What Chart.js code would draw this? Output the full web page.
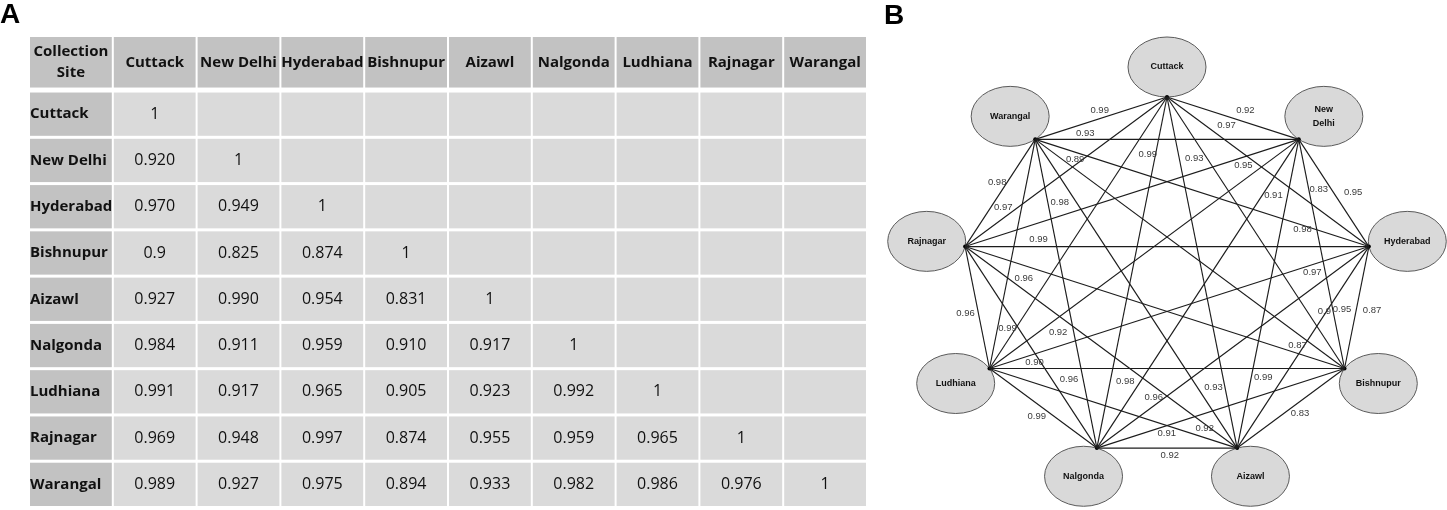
<!DOCTYPE html>
<html>
<head>
<meta charset="utf-8">
<script src="https://cdn.jsdelivr.net/npm/chart.js@4.4.0/dist/chart.umd.min.js"></script>
<style>
    html, body { margin: 0; padding: 0; background: #fff; }
    #wrap { position: relative; width: 1447px; height: 510px; overflow: hidden; }
    #tableCanvas { position: absolute; left: 0; top: 0; }
    #netCanvas { position: absolute; left: 880px; top: 0; }
    .panel-tag {
        position: absolute;
        font: bold 28px "Liberation Sans", Arial, sans-serif;
        line-height: 28px;
        color: #000;
    }
</style>
</head>
<body>
<div id="wrap">
    <canvas id="tableCanvas"></canvas>
    <canvas id="netCanvas"></canvas>
    <div class="panel-tag" style="left:0px; top:0px;">A</div>
    <div class="panel-tag" style="left:884px; top:1px;">B</div>
</div>

<script>
// collection sites, same order in the table and around the network
const sites = ['Cuttack', 'New Delhi', 'Hyderabad', 'Bishnupur', 'Aizawl', 'Nalgonda', 'Ludhiana', 'Rajnagar', 'Warangal'];
const cornerLabel = 'Collection Site';

// lower triangle of the correlation table, written as in the figure
const corrRows = [
    ['1'],
    ['0.920', '1'],
    ['0.970', '0.949', '1'],
    ['0.9', '0.825', '0.874', '1'],
    ['0.927', '0.990', '0.954', '0.831', '1'],
    ['0.984', '0.911', '0.959', '0.910', '0.917', '1'],
    ['0.991', '0.917', '0.965', '0.905', '0.923', '0.992', '1'],
    ['0.969', '0.948', '0.997', '0.874', '0.955', '0.959', '0.965', '1'],
    ['0.989', '0.927', '0.975', '0.894', '0.933', '0.982', '0.986', '0.976', '1']
];

// network edges (site indexes) and the value printed on each edge
const edgePairs = [
    [0, 1], [0, 2], [0, 3], [0, 4], [0, 5], [0, 6], [0, 7], [0, 8],
    [1, 2], [1, 3], [1, 4], [1, 5], [1, 6], [1, 7], [1, 8],
    [2, 3], [2, 4], [2, 5], [2, 6], [2, 7], [2, 8],
    [3, 4], [3, 5], [3, 6], [3, 7], [3, 8],
    [4, 5], [4, 6], [4, 7], [4, 8],
    [5, 6], [5, 7], [5, 8],
    [6, 7], [6, 8],
    [7, 8]
];
const edgeValues = [
    '0.92', '0.97', '0.9', '0.93', '0.98', '0.99', '0.97', '0.99',
    '0.95', '0.83', '0.99', '0.91', '0.92', '0.95', '0.93',
    '0.87', '0.95', '0.96', '0.97', '0.99', '0.98',
    '0.83', '0.91', '0.90', '0.87', '0.89',
    '0.92', '0.92', '0.96', '0.93',
    '0.99', '0.96', '0.98',
    '0.96', '0.99',
    '0.98'
];

// where each edge label sits: fraction along the edge, then a small pixel nudge
const edgeLabelAt = [
    [0.595, 0, -12], [0.295, 0, -16], [0.791, 17, 0], [0.174, 15, 0], [0.809, 15, 0], [0.21, 18, 0], [0.811, 0, -11], [0.511, 0, -8],
    [0.49, 20, 0], [0.219, 10, 0], [0.771, 12, 0], [0.18, 11, 0], [0.778, 0, 15], [0.166, 0, 8], [0.81, 0, -6],
    [0.525, 16, 0], [0.31, 14, 0], [0.791, 0, -9], [0.149, 0, 8], [0.818, 0, -7], [0.199, 0, 4],
    [0.414, 0, 12], [0.718, 0, 8], [0.873, 0, -6], [0.124, 0, -8], [0.871, 0, -10],
    [0.48, 0, 7], [0.131, 0, -9], [0.784, 0, -12], [0.196, 16, 0],
    [0.56, 0, 13], [0.34, 17, 0], [0.797, 12, 0],
    [0.45, -13, 0], [0.177, 10, 0],
    [0.6, -10, 0]
];

const HEAD_ROW = 1.2;      // header row is a bit taller than the body rows
const NODE_RX = 39;
const NODE_RY = 30;
const tableFont = '"Open Sans", "Liberation Sans", sans-serif';
const netFont = '"Liberation Sans", Arial, sans-serif';

// ---------- Panel A: the table ----------
const cells = [];
cells.push({ c: 0, r: -1, text: cornerLabel, kind: 'head' });
sites.forEach((s, i) => cells.push({ c: i + 1, r: -1, text: s, kind: 'head' }));
sites.forEach((s, r) => {
    cells.push({ c: 0, r: r, text: s, kind: 'rowhead' });
    sites.forEach((_, c) => {
        cells.push({ c: c + 1, r: r, text: corrRows[r][c] || '', kind: 'body' });
    });
});

const tablePlugin = {
    id: 'corrTable',
    beforeDatasetsDraw(chart) {
        const { ctx } = chart;
        const xs = chart.scales.x;
        const ys = chart.scales.y;
        ctx.save();
        chart.data.datasets[0].data.forEach(pt => {
            const cell = pt.cell;
            const x0 = xs.getPixelForValue(cell.c);
            const x1 = xs.getPixelForValue(cell.c + 1);
            const y0 = ys.getPixelForValue(cell.r < 0 ? -HEAD_ROW : cell.r);
            const y1 = ys.getPixelForValue(cell.r < 0 ? 0 : cell.r + 1);
            const w = x1 - x0 - 2;
            const h = y1 - y0 - (cell.r < 0 ? 5 : 3);

            ctx.fillStyle = cell.kind === 'body' ? '#dadada' : '#c2c2c2';
            ctx.fillRect(x0, y0, w, h);

            if (!cell.text) return;
            ctx.fillStyle = '#111';
            ctx.textBaseline = 'middle';
            ctx.font = cell.kind === 'body' ? '16px ' + tableFont : 'bold 15px ' + tableFont;
            const cy = y0 + h / 2;
            if (cell.kind === 'rowhead') {
                ctx.textAlign = 'left';
                ctx.fillText(cell.text, x0, cy);
                return;
            }
            ctx.textAlign = 'center';
            // wrap header text onto two lines when it does not fit
            let lines = [cell.text];
            if (ctx.measureText(cell.text).width > w - 4) lines = cell.text.split(' ');
            lines.forEach((ln, k) => {
                ctx.fillText(ln, x0 + w / 2, cy + (k - (lines.length - 1) / 2) * 21);
            });
        });
        ctx.restore();
    }
};

const tableCanvas = document.getElementById('tableCanvas');
tableCanvas.width = 880;
tableCanvas.height = 510;
tableCanvas.style.width = '880px';
tableCanvas.style.height = '510px';

new Chart(tableCanvas, {
    type: 'scatter',
    data: {
        datasets: [{
            data: cells.map(cell => ({ x: cell.c + 0.5, y: cell.r + 0.5, cell: cell })),
            pointRadius: 0
        }]
    },
    options: {
        responsive: false,
        animation: false,
        events: [],
        layout: { autoPadding: false, padding: { left: 30, right: 12, top: 37, bottom: 1 } },
        plugins: { legend: { display: false }, tooltip: { enabled: false } },
        scales: {
            x: { type: 'linear', display: false, min: 0, max: sites.length + 1 },
            y: { type: 'linear', display: false, reverse: true, min: -HEAD_ROW, max: sites.length }
        }
    },
    plugins: [tablePlugin]
});

// ---------- Panel B: the network ----------
const angleOf = i => i * 2 * Math.PI / sites.length;
const nodePts = sites.map((s, i) => ({ x: Math.sin(angleOf(i)), y: Math.cos(angleOf(i)) }));

const edgeSets = edgePairs.map(([a, b]) => ({
    data: [nodePts[a], nodePts[b]],
    showLine: true,
    borderColor: '#1c1c1c',
    borderWidth: 1.15,
    pointRadius: 0,
    clip: false
}));

const netPlugin = {
    id: 'netDecor',
    beforeDatasetsDraw(chart) {
        const { ctx } = chart;
        const xs = chart.scales.x;
        const ys = chart.scales.y;
        ctx.save();
        sites.forEach((name, i) => {
            const a = angleOf(i);
            const px = xs.getPixelForValue(nodePts[i].x);
            const py = ys.getPixelForValue(nodePts[i].y);
            const cx = px + NODE_RX * Math.sin(a);
            const cy = py - NODE_RY * Math.cos(a);
            ctx.beginPath();
            ctx.ellipse(cx, cy, NODE_RX, NODE_RY, 0, 0, Math.PI * 2);
            ctx.fillStyle = '#d9d9d9';
            ctx.fill();
            ctx.lineWidth = 1;
            ctx.strokeStyle = '#5a5a5a';
            ctx.stroke();

            const lines = name.split(' ');
            ctx.fillStyle = '#111';
            ctx.font = 'bold 9px ' + netFont;
            ctx.textAlign = 'center';
            ctx.textBaseline = 'middle';
            lines.forEach((ln, k) => {
                ctx.fillText(ln, cx, cy + (k - (lines.length - 1) / 2) * 14);
            });
        });
        ctx.restore();
    },
    afterDatasetsDraw(chart) {
        const { ctx } = chart;
        const xs = chart.scales.x;
        const ys = chart.scales.y;
        ctx.save();
        ctx.fillStyle = '#3a3a3a';
        ctx.font = '9.5px ' + netFont;
        ctx.textAlign = 'center';
        ctx.textBaseline = 'middle';
        edgePairs.forEach(([a, b], k) => {
            const [t, dx, dy] = edgeLabelAt[k];
            const ax = xs.getPixelForValue(nodePts[a].x), ay = ys.getPixelForValue(nodePts[a].y);
            const bx = xs.getPixelForValue(nodePts[b].x), by = ys.getPixelForValue(nodePts[b].y);
            ctx.fillText(edgeValues[k], ax + (bx - ax) * t + dx, ay + (by - ay) * t + dy);
        });
        ctx.restore();
    }
};

const netCanvas = document.getElementById('netCanvas');
netCanvas.width = 567;
netCanvas.height = 510;
netCanvas.style.width = '567px';
netCanvas.style.height = '510px';

new Chart(netCanvas, {
    type: 'scatter',
    data: {
        datasets: [
            ...edgeSets,
            {
                // small dots where the edges meet each node
                data: nodePts,
                pointRadius: 2,
                pointBackgroundColor: '#000',
                pointBorderWidth: 0,
                clip: false
            }
        ]
    },
    options: {
        responsive: false,
        animation: false,
        events: [],
        layout: { autoPadding: false, padding: { left: 82, right: 75, top: 97, bottom: 51 } },
        plugins: { legend: { display: false }, tooltip: { enabled: false } },
        scales: {
            x: { type: 'linear', display: false, min: -1, max: 1 },
            y: { type: 'linear', display: false, min: -1, max: 1 }
        }
    },
    plugins: [netPlugin]
});
</script>
</body>
</html>
